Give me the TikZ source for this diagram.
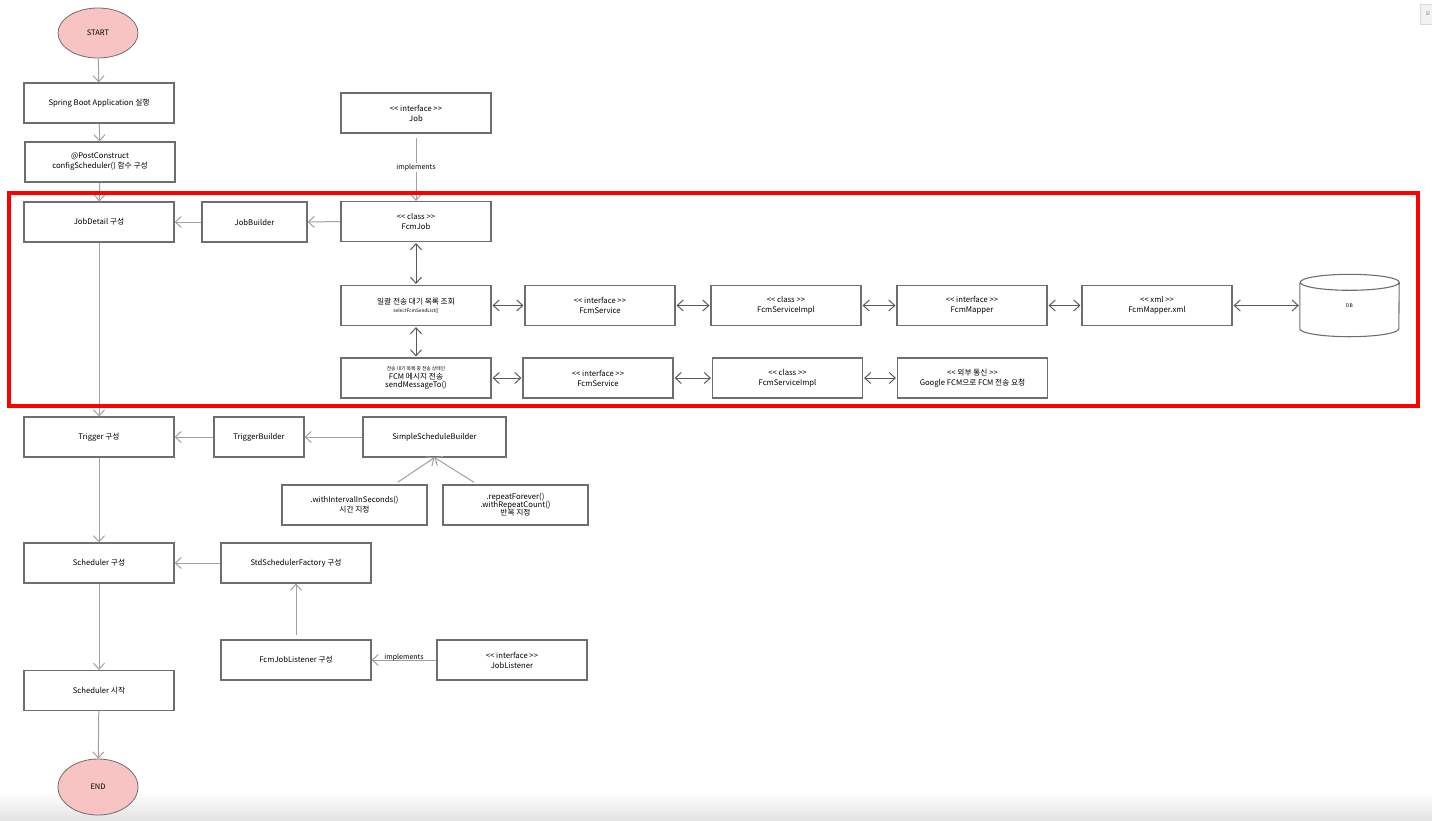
\documentclass[tikz,border=0pt]{standalone}
\usepackage{fontspec}
\setmainfont{Noto Sans CJK KR}
\usetikzlibrary{arrows.meta,positioning,calc,shapes.geometric}
\definecolor{boxclr}{HTML}{6E6E6E}
\definecolor{lnclr}{HTML}{A0A0A0}
\definecolor{dblclr}{HTML}{5A5A5A}
\definecolor{pinkfill}{HTML}{F8C3C3}
\newcommand{\stereo}[1]{<\kern0pt< #1 >\kern0pt>}
\tikzset{>={Straight Barb[length=6pt,width=11pt]},
  box/.style={draw=boxclr, line width=1.1pt, minimum width=150pt, minimum height=40pt, inner sep=1pt, align=center, font=\fontsize{7.7}{10}\selectfont},
  term/.style={ellipse, draw=boxclr, line width=0.8pt, fill=pinkfill, minimum width=80pt, minimum height=50pt, font=\fontsize{7.5}{8}\selectfont},
  flow/.style={->, draw=lnclr, line width=1pt},
  link/.style={<->, draw=dblclr, line width=1pt, shorten <=1pt, shorten >=1pt}}

\begin{document}
\begin{tikzpicture}[x=1pt, y=-1pt]
  \useasboundingbox (0,0) rectangle (1432,820);
  \shade[top color=white, bottom color=black!11] (0,792) rectangle (1432,820);
  \filldraw[fill=black!5, draw=black!15] (1420,4) rectangle (1434,24);
  \node[font=\fontsize{5}{6}\selectfont, text=black!50] (corner) at (1428,14) {모};
  % main flow
  \node[term] (start) at (98,33) {START};
  \node[box] (boot) at (99,103) {Spring Boot Application 실행};
  \node[box] (post) at (100,162) {@PostConstruct\\configScheduler() 함수 구성};
  \node[box] (jdetail) at (99,222) {JobDetail 구성};
  \node[box] (trig) at (99,437) {Trigger 구성};
  \node[box] (sched) at (99,563) {Scheduler 구성};
  \node[box] (run) at (99,690.5) {Scheduler 시작};
  \node[term, minimum height=56pt] (stop) at (98,787) {END};
  \foreach \a/\b in {start/boot, boot/post, post/jdetail, jdetail/trig, trig/sched, sched/run, run/stop}
    \draw[flow] (\a) -- (\b);
  % job
  \node[box] (job) at (416,113) {\stereo{interface}\\Job};
  \node[box] (fcmjob) at (416,221.5) {\stereo{class}\\FcmJob};
  \node[box, minimum width=105pt] (jbuild) at (254.5,222) {JobBuilder};
  \draw[flow, shorten <=4pt] (job.south) -- node[fill=white, font=\fontsize{7}{8}\selectfont, inner sep=1pt] {implements} (fcmjob.north);
  \draw[flow] (fcmjob.west) -- (jbuild.east);
  \draw[flow] (jbuild.west) -- (jdetail.east);
  % send list
  \node[box] (sel) at (416,305.5) {일괄 전송 대기 목록 조회\\[-2pt]{\fontsize{4.8}{6}\selectfont selectFcmSendList()}};
  \foreach \n/\x/\t in {svcA/600/{\stereo{interface}\\FcmService}, implA/786/{\stereo{class}\\FcmServiceImpl}, mapper/972/{\stereo{interface}\\FcmMapper}, xml/1157/{\stereo{xml}\\FcmMapper.xml}}
    \node[box] (\n) at (\x,305.5) {\t};
  \node[minimum width=99pt, minimum height=62pt, inner sep=0pt, font=\fontsize{5}{6}\selectfont] (db) at (1349.5,305.5) {DB};
  \draw[boxclr, line width=1.1pt] ($(db.north west)+(0,8)$) -- ($(db.south west)+(0,-8)$)
    arc[start angle=180, end angle=0, x radius=49.5, y radius=8] -- ($(db.north east)+(0,8)$)
    arc[start angle=0, end angle=-360, x radius=49.5, y radius=8];
  \foreach \a/\b in {sel/svcA, svcA/implA, implA/mapper, mapper/xml, xml/db}
    \draw[link] (\a.east) -- (\b.west);
  % send message
  \node[box] (send) at (416,378) {{\fontsize{4.8}{6}\selectfont 전송 대기 목록 중 전송 상태인}\\[-1pt]FCM 메시지 전송\\[-2pt]sendMessageTo()};
  \foreach \n/\x/\t in {svcB/598/{\stereo{interface}\\FcmService}, implB/787.5/{\stereo{class}\\FcmServiceImpl}, ext/972.5/{\stereo{외부 통신}\\Google FCM으로 FCM 전송 요청}}
    \node[box] (\n) at (\x,378) {\t};
  \foreach \a/\b in {send/svcB, svcB/implB, implB/ext}
    \draw[link] (\a.east) -- (\b.west);
  \draw[link] (fcmjob.south) -- (sel.north);
  \draw[link] (sel.south) -- (send.north);
  \draw[red, line width=4pt] (9,193) rectangle (1418,406);
  % trigger
  \node[box, minimum width=90pt] (tbuild) at (259,437) {TriggerBuilder};
  \node[box, minimum width=143pt] (ssb) at (434.5,437) {SimpleScheduleBuilder};
  \node[box, minimum width=145pt] (ival) at (354.5,505) {.withIntervalInSeconds()\\시간 지정};
  \node[box, minimum width=145pt] (rep) at (515.5,505) {.repeatForever()\\[-2pt].withRepeatCount()\\[-2pt]반복 지정};
  \draw[flow] (ssb.west) -- (tbuild.east);
  \draw[flow] (tbuild.west) -- (trig.east);
  \draw[flow, shorten <=4pt] ([xshift=40pt]ival.north) -- (ssb.south);
  \draw[flow, shorten <=4pt] ([xshift=-38pt]rep.north) -- (ssb.south);
  % scheduler
  \node[box] (factory) at (296,563) {StdSchedulerFactory 구성};
  \node[box] (listener) at (296,660) {FcmJobListener 구성};
  \node[box] (jlist) at (512,660) {\stereo{interface}\\JobListener};
  \draw[flow] (factory.west) -- (sched.east);
  \draw[flow, shorten <=4pt] (listener.north) -- (factory.south);
  \draw[flow] (jlist.west) -- node[font=\fontsize{7}{8}\selectfont, yshift=2pt] {implements} (listener.east);
\end{tikzpicture}
\end{document}
